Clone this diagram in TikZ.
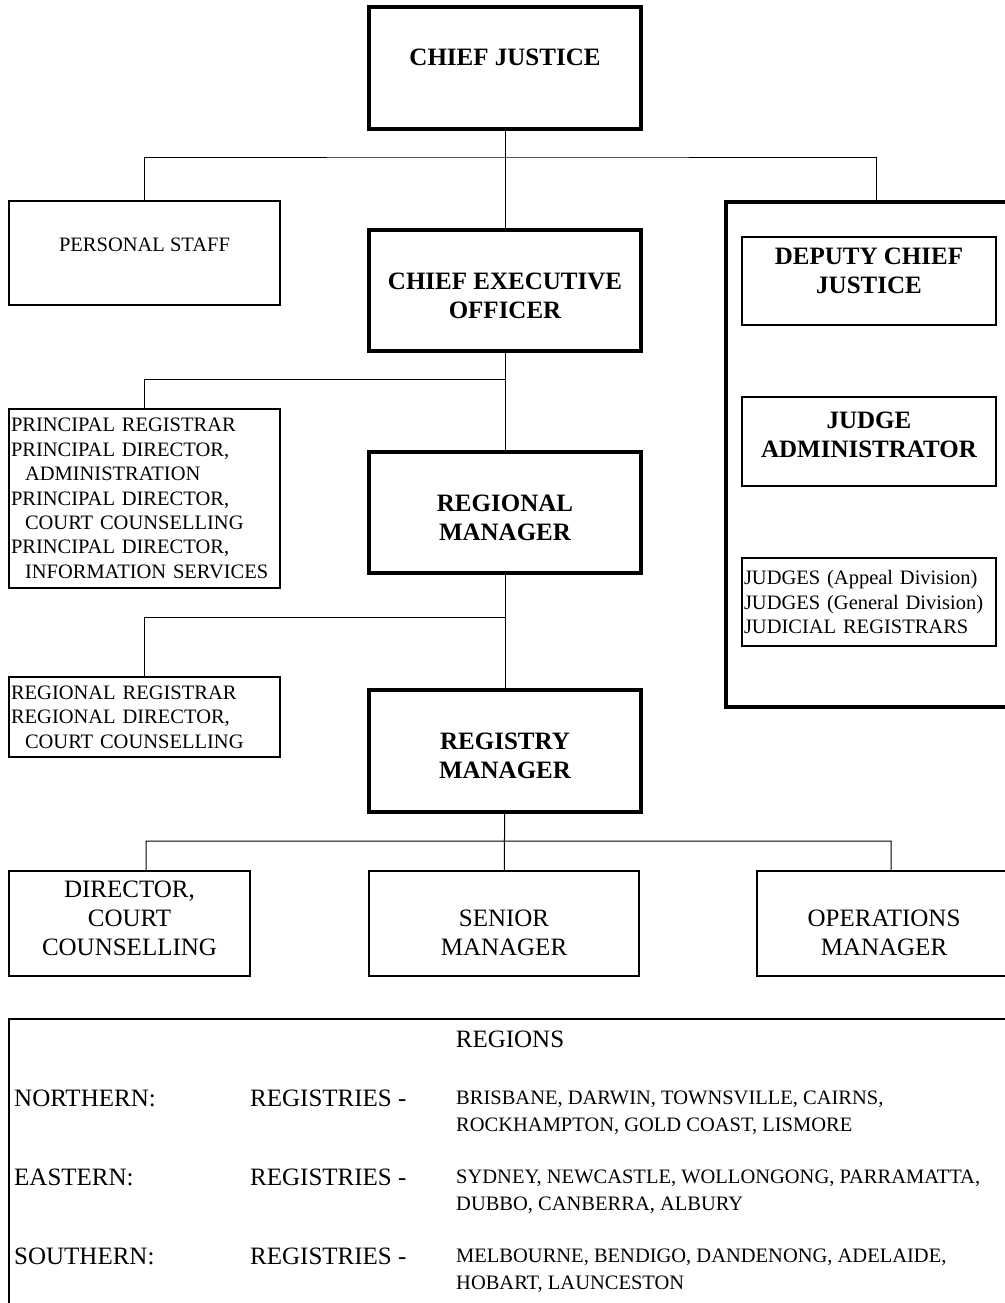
\documentclass[tikz,border=0pt]{standalone}
\usepackage{fontspec}
\setmainfont{Liberation Serif}
\newcommand\padbot[1]{\rule[-#1]{0pt}{#1}}
\newcommand\padtop[1]{\rule{0pt}{#1}}
\begin{document}
\begin{tikzpicture}[x=1pt,y=-1pt,
	head/.style={draw,line width=3.5pt,inner sep=0pt,align=center,font=\bfseries\fontsize{25}{29}\selectfont},
	dep/.style={draw,line width=1.4pt,inner sep=0pt,align=center,font=\bfseries\fontsize{25}{29}\selectfont},
	post/.style={draw,line width=1.4pt,inner sep=0pt,align=center,font=\fontsize{25}{29}\selectfont},
	list/.style={draw,line width=1.4pt,inner xsep=2pt,inner ysep=0pt,align=left,font=\fontsize{20.5}{24.4}\selectfont},
	txt/.style={inner sep=0pt,font=\fontsize{25}{29}\selectfont},
	city/.style={inner sep=0pt,align=left,font=\fontsize{20.5}{27}\selectfont},
	link/.style={line width=1pt}]
	\useasboundingbox (0,0) rectangle (1004,1303);
	\node[head,minimum width=272pt,minimum height=122pt] (cj) at (505,68) {CHIEF JUSTICE\padbot{22pt}};
	\node[post,font=\fontsize{20.5}{24}\selectfont,minimum width=271pt,minimum height=104pt] (staff) at (144.5,253) {PERSONAL STAFF\padbot{16pt}};
	\node[head,minimum width=272pt,minimum height=121pt] (ceo) at (505,290.5) {\padtop{27.5pt}CHIEF EXECUTIVE\\OFFICER};
	\node[head,minimum width=300pt,minimum height=505pt] (bench) at (876,454.5) {};
	\node[dep,minimum width=254pt,minimum height=88pt] (dcj) at (869,281) {DEPUTY CHIEF\\JUSTICE\padbot{21pt}};
	\node[dep,minimum width=254pt,minimum height=89pt] (jadm) at (869,441.5) {JUDGE\\ADMINISTRATOR\padbot{14pt}};
	\node[list,text width=250pt,minimum height=88pt] (judges) at (869,602)
	{JUDGES (Appeal Division)\\JUDGES (General Division)\\JUDICIAL REGISTRARS};
	\node[list,text width=267pt,minimum height=179pt] (prin) at (144.5,498.5)
	{PRINCIPAL REGISTRAR\\PRINCIPAL DIRECTOR,\\\hspace*{14pt}ADMINISTRATION\\PRINCIPAL DIRECTOR,\\\hspace*{14pt}COURT COUNSELLING\\PRINCIPAL DIRECTOR,\\\hspace*{14pt}INFORMATION SERVICES};
	\node[head,minimum width=272pt,minimum height=121pt] (rm) at (505,512.5) {\padtop{26.5pt}REGIONAL\\MANAGER};
	\node[list,text width=267pt,minimum height=80pt] (rreg) at (144.5,717)
	{REGIONAL REGISTRAR\\REGIONAL DIRECTOR,\\\hspace*{14pt}COURT COUNSELLING};
	\node[head,minimum width=272pt,minimum height=122pt] (regm) at (505,751) {\padtop{25.5pt}REGISTRY\\MANAGER};
	\node[post,minimum width=241pt,minimum height=105pt] (dir) at (129.5,923.5) {DIRECTOR,\\COURT\\COUNSELLING\padbot{11pt}};
	\node[post,minimum width=270pt,minimum height=105pt] (snr) at (504,923.5) {\padtop{34.5pt}SENIOR\\MANAGER};
	\node[post,minimum width=254pt,minimum height=105pt] (ops) at (884,923.5) {\padtop{34.5pt}OPERATIONS\\MANAGER};
	\coordinate (bus1) at (505,157);
	\coordinate (bus2) at (505,379);
	\coordinate (bus3) at (505,617);
	\coordinate (bus4) at (505,841);
	\draw[link] (cj) -- (ceo) (staff) |- (bus1) -| (bench);
	\draw[link] (ceo) -- (rm) (prin) |- (bus2);
	\draw[link] (rm) -- (regm) (rreg) |- (bus3);
	\draw[link] (regm) -- (snr) ([xshift=16.5pt]dir.north) |- (bus4) -| ([xshift=7pt]ops.north);
	\node[draw,line width=1.4pt,minimum width=1022pt,minimum height=312pt] (regions) at (520,1175) {};
	\node[txt] (regt) at (510,1039) {REGIONS};
	\foreach \i/\y/\rg/\ca/\cb in {
		1/1098/NORTHERN/{BRISBANE, DARWIN, TOWNSVILLE, CAIRNS,}/{ROCKHAMPTON, GOLD COAST, LISMORE},
		2/1177/EASTERN/{SYDNEY, NEWCASTLE, WOLLONGONG, PARRAMATTA,}/{DUBBO, CANBERRA, ALBURY},
		3/1256/SOUTHERN/{MELBOURNE, BENDIGO, DANDENONG, ADELAIDE,}/{HOBART, LAUNCESTON}}
	{
		\node[txt,anchor=west] (rg\i) at (14,\y) {\rg:};
		\node[txt,anchor=west] (rs\i) at (250,\y) {REGISTRIES -};
		\node[city,anchor=north west] (ct\i) at (456,\y-6.8) {\ca\\\cb};
	}
\end{tikzpicture}
\end{document}
